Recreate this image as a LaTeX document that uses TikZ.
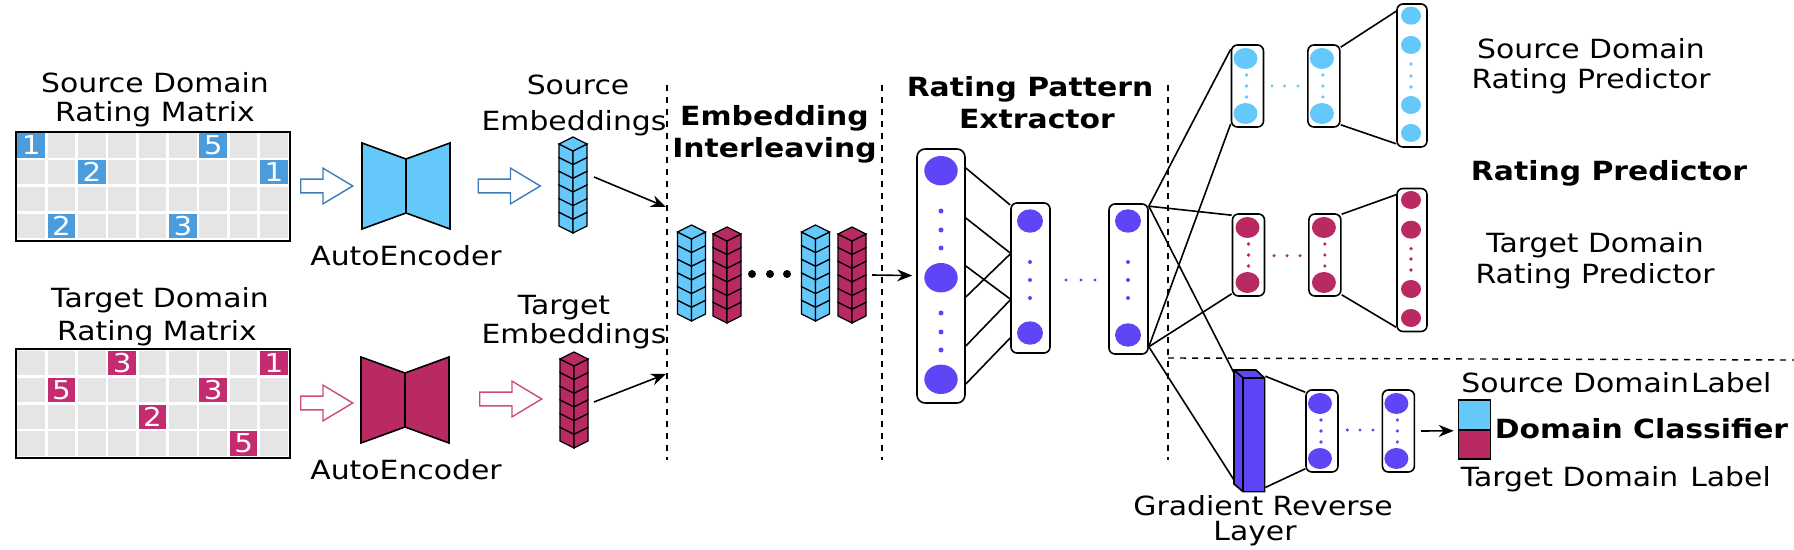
\documentclass[tikz,border=0pt]{standalone}
\usepackage{fontspec}
\setmainfont[FakeStretch=1.13]{DejaVu Sans}
\usepackage{xcolor}
\usepackage{tikz}
\usetikzlibrary{positioning, shapes.arrows, arrows.meta}

\definecolor{srcblue}{HTML}{64C8FA}
\definecolor{tgtred}{HTML}{B92A63}
\definecolor{unitviolet}{HTML}{5E45F5}
\definecolor{srccell}{HTML}{4A9CDC}
\definecolor{tgtcell}{HTML}{C52B71}
\definecolor{srcline}{HTML}{3E7BB8}
\definecolor{tgtline}{HTML}{CF4A80}

% two big units and three dots in a layer box
\newcommand{\twounits}[4]{
	\fill[#2] ([shift={(#4,-#3)}]#1.center) ellipse [x radius=12, y radius=10.5];
	\fill[#2] ([shift={(#4,#3)}]#1.center) ellipse [x radius=12, y radius=10.5];
	\foreach \dy in {-11,0,11}
		\fill[#2] ([shift={(#4+1,\dy)}]#1.center) circle [radius=1.8];
}
\newcommand{\rowdots}[3]{
	\foreach \dx in {#1}
		\fill[#3] (\dx,#2) circle [radius=1.7];
}

\begin{document}
\begin{tikzpicture}[
	x=0.5pt, y=-0.5pt,
	line width=0.8pt,
	>={Stealth[length=7.5pt,width=6pt]},
	lbl/.style={align=center, inner sep=0pt, font=\fontsize{13.2}{14.5}\selectfont},
	boldlbl/.style={lbl, font=\fontsize{13.2}{15}\selectfont\bfseries},
	matframe/.style={draw, line width=1pt, fill=white, minimum width=137pt, minimum height=54.5pt, inner sep=0pt},
	ratecell/.style={minimum width=13.85pt, minimum height=12.15pt, inner sep=0pt, text=white, font=\fontsize{13}{13}\selectfont},
	blockarrow/.style={single arrow, draw, fill=white, line width=0.7pt, inner sep=0pt, text height=6.2pt, minimum height=26pt, single arrow head extend=5.5pt, single arrow tip angle=62},
	layer/.style={draw, rounded corners=3pt, fill=white, minimum width=16pt, minimum height=41pt, inner sep=0pt},
	dividerline/.style={dashed, line width=0.7pt},
	pics/cubestack/.style={code={
		\foreach \i in {0,...,5} {
			\draw[fill=#1, line width=0.6pt] (-14,7+13.67*\i) -- (0,14+13.67*\i) -- (0,27.67+13.67*\i) -- (-14,20.67+13.67*\i) -- cycle;
			\draw[fill=#1, line width=0.6pt] (14,7+13.67*\i) -- (0,14+13.67*\i) -- (0,27.67+13.67*\i) -- (14,20.67+13.67*\i) -- cycle;
		}
		\draw[fill=#1, line width=0.6pt] (0,0) -- (14,7) -- (0,14) -- (-14,7) -- cycle;
	}},
	pics/autoenc/.style={code={
		\draw[fill=#1] (-44,-43) -- (0,-27) -- (0,27) -- (-44,43) -- cycle;
		\draw[fill=#1] (44,-43) -- (0,-27) -- (0,27) -- (44,43) -- cycle;
	}}
]
	\useasboundingbox (0,0) rectangle (1794,550);

	% rating matrices
	\node[matframe] (srcmat) at (152.8,186.2) {};
	\node[matframe] (tgtmat) at (152.8,403.3) {};
	\foreach \r in {0,...,3}
		\foreach \c in {0,...,8} {
			\fill[black!10] (17.3+30.35*\c,133.3+26.8*\r) rectangle +(27.7,24.3);
			\fill[black!10] (17.3+30.35*\c,351+26.8*\r) rectangle +(27.7,24.3);
		}
	\foreach \c/\r/\v in {0/0/1, 6/0/5, 2/1/2, 8/1/1, 1/3/2, 5/3/3}
		\node[ratecell, fill=srccell] (src\c\r) at (31.15+30.35*\c,145.45+26.8*\r) {\v};
	\foreach \c/\r/\v in {3/0/3, 8/0/1, 1/1/5, 6/1/3, 4/2/2, 7/3/5}
		\node[ratecell, fill=tgtcell] (tgt\c\r) at (31.15+30.35*\c,363.15+26.8*\r) {\v};

	\node[lbl] (srcmatlbl) at (155,99.4) {Source Domain\\Rating Matrix};
	\node[lbl] (tgtmatlbl) at (160,317) {Target Domain\\[2pt]\hspace*{-3pt}Rating Matrix};

	% autoencoders and embeddings
	\node[blockarrow, draw=srcline] (srcin) at (321,186) {};
	\node[blockarrow, draw=tgtline] (tgtin) at (321,403) {};
	\pic (srcae) at (406,186) {autoenc=srcblue};
	\pic (tgtae) at (405,400) {autoenc=tgtred};
	\node[lbl] (srcaelbl) at (406,256) {AutoEncoder};
	\node[lbl] (tgtaelbl) at (406,470) {AutoEncoder};
	\node[blockarrow, draw=srcline, minimum height=31pt] (srcout) at (503.5,186) {};
	\node[blockarrow, draw=tgtline, minimum height=31pt] (tgtout) at (505,399) {};
	\pic (srcemb) at (573,137) {cubestack=srcblue};
	\pic (tgtemb) at (574,352) {cubestack=tgtred};
	\node[lbl] (srcemblbl) at (574,105.5) {\hspace*{4pt}Source\\[3.5pt]Embeddings};
	\node[lbl] (tgtemblbl) at (574,322.5) {\hspace*{-10pt}Target\\Embeddings};
	\coordinate (srcfrom) at (594,177);
	\coordinate (tgtfrom) at (594,402);
	\coordinate (srcto) at (666,207);
	\coordinate (tgtto) at (666,374);
	\draw[->] (srcfrom) -- (srcto);
	\draw[->] (tgtfrom) -- (tgtto);

	% dividers
	\coordinate (div1top) at (667,85);
	\coordinate (div1bot) at (667,460);
	\coordinate (div2top) at (882,85);
	\coordinate (div2bot) at (882,460);
	\coordinate (div3top) at (1168,85);
	\coordinate (div3bot) at (1168,460);
	\coordinate (div4left) at (1168,358);
	\coordinate (div4right) at (1794,360);
	\draw[dividerline] (div1top) -- (div1bot);
	\draw[dividerline] (div2top) -- (div2bot);
	\draw[dividerline] (div3top) -- (div3bot);
	\draw[dividerline] (div4left) -- (div4right);

	% interleaving
	\node[boldlbl] (interlbl) at (774.5,134) {Embedding\\[1pt]Interleaving};
	\pic (mix1) at (691.5,225) {cubestack=srcblue};
	\pic (mix2) at (727,227) {cubestack=tgtred};
	\pic (mix3) at (815.5,225) {cubestack=srcblue};
	\pic (mix4) at (852,227) {cubestack=tgtred};
	\foreach \x in {752,770,787}
		\fill (\x,274) circle [radius=4];

	% extractor
	\node[boldlbl] (extlbl) at (1030,103) {Rating Pattern\\[1pt]\hspace*{7pt}Extractor};
	\node[layer, minimum width=24pt, minimum height=127pt, rounded corners=4pt] (lay1) at (941,276) {};
	\node[layer, minimum width=19.5pt, minimum height=75pt] (lay2) at (1030.5,278) {};
	\node[layer, minimum width=19.5pt, minimum height=75pt] (lay3) at (1128.5,279) {};
	\coordinate (mixout) at (872,275);
	\draw[->, shorten >=2pt] (mixout) -- (lay1);
	\foreach \y in {170.7,277.7,379.3}
		\fill[unitviolet] (941,\y) ellipse [x radius=16.7, y radius=14.7];
	\foreach \y in {211,230,248,313,332,350}
		\fill[unitviolet] (941,\y) circle [radius=2.5];
	\foreach \y in {221,333}
		\fill[unitviolet] (1030,\y) ellipse [x radius=13, y radius=11.7];
	\foreach \y in {221,335}
		\fill[unitviolet] (1128,\y) ellipse [x radius=13, y radius=11.7];
	\foreach \y in {262,280,298} {
		\fill[unitviolet] (1030,\y) circle [radius=2];
		\fill[unitviolet] (1128,\y) circle [radius=2];
	}
	\rowdots{1066,1081,1095}{280}{unitviolet}
	\foreach \a/\b in {-108/-73, -58/-25, -10/21, 21/-24, 70/22, 108/60}
		\draw ([shift={(0,\a)}]lay1.east) -- ([shift={(0,\b)}]lay2.west);

	% source predictor
	\node[layer] (srcA) at (1247.5,86) {};
	\node[layer, right=21.4pt of srcA] (srcB) {};
	\node[layer, minimum width=15pt, minimum height=71.5pt] (srcC) at (1412,75.5) {};
	\twounits{srcA}{srcblue}{27.5}{-2}
	\twounits{srcB}{srcblue}{27.5}{-2}
	\rowdots{1272,1284.5,1298}{86}{srcblue}
	\foreach \y in {15.7,45,105,133}
		\fill[srcblue] (1411,\y) ellipse [x radius=10, y radius=9];
	\foreach \y in {64,76,87}
		\fill[srcblue] (1411,\y) circle [radius=1.8];
	\draw ([shift={(0,3)}]srcB.north east) -- ([shift={(0,8)}]srcC.north west);
	\draw ([shift={(0,-3)}]srcB.south east) -- ([shift={(0,-4)}]srcC.south west);

	% target predictor
	\node[layer] (tgtA) at (1248.5,255) {};
	\node[layer, right=21.4pt of tgtA] (tgtB) {};
	\node[layer, minimum width=15pt, minimum height=71.5pt] (tgtC) at (1412,260) {};
	\twounits{tgtA}{tgtred}{27.5}{-1}
	\twounits{tgtB}{tgtred}{27.5}{-1}
	\rowdots{1274,1287,1300}{255.7}{tgtred}
	\foreach \y in {200,229.7,289,318}
		\fill[tgtred] (1411,\y) ellipse [x radius=10, y radius=9];
	\foreach \y in {248.7,259,270}
		\fill[tgtred] (1411,\y) circle [radius=1.8];
	\draw ([shift={(0,1)}]tgtB.north east) -- ([shift={(0,7)}]tgtC.north west);
	\draw ([shift={(0,-2)}]tgtB.south east) -- ([shift={(0,-5)}]tgtC.south west);

	% gradient reverse layer and classifier
	\draw[fill=unitviolet] (1234,370) -- (1256,370) -- (1264.5,378) -- (1264.5,491.7) -- (1243,491.7) -- (1234,484) -- cycle;
	\node[draw, fill=unitviolet, minimum width=10.75pt, minimum height=56.85pt, inner sep=0pt] (grl) at (1253.75,434.85) {};
	\draw (1234,370) -- (grl.north west);
	\node[layer] (domA) at (1322,431) {};
	\node[layer, right=21.4pt of domA] (domB) {};
	\twounits{domA}{unitviolet}{27.5}{-2}
	\twounits{domB}{unitviolet}{27.5}{-2}
	\rowdots{1347.4,1360,1373}{430}{unitviolet}
	\draw ([shift={(0,-1)}]grl.north east) -- ([shift={(0,3)}]domA.north west);
	\draw ([shift={(0,-5)}]grl.south east) -- ([shift={(0,-4)}]domA.south west);
	\node[draw, fill=srcblue, minimum width=16pt, minimum height=15pt, inner sep=0pt] (srcdom) at (1474.5,415) {};
	\node[draw, fill=tgtred, minimum width=16pt, minimum height=14.5pt, inner sep=0pt, below=-0.8pt of srcdom] (tgtdom) {};
	\draw[->] ([xshift=3pt]domB.east) -- ([xshift=-2pt]srcdom.south west);

	% links out of the extractor
	\coordinate (hubtop) at ([shift={(0,3)}]lay3.north east);
	\coordinate (hubbot) at ([shift={(0,-8)}]lay3.south east);
	\draw (hubtop) -- ([shift={(0,5)}]srcA.north west);
	\draw (hubbot) -- ([shift={(0,-4)}]srcA.south west);
	\draw (hubtop) -- ([shift={(0,2)}]tgtA.north west);
	\draw (hubbot) -- ([shift={(0,-3)}]tgtA.south west);
	\coordinate (grltop) at (1234,373);
	\coordinate (grlbot) at (1234,480);
	\draw (hubtop) -- (grltop);
	\draw (hubbot) -- (grlbot);

	% right hand labels
	\node[lbl] (srcpredlbl) at (1591,66.4) {Source Domain\\[0.6pt]Rating Predictor};
	\node[boldlbl] (predlbl) at (1609,173) {Rating Predictor};
	\node[lbl] (tgtpredlbl) at (1595,260.5) {Target Domain\\[1pt]Rating Predictor};
	\node[lbl, anchor=west] (srcdomlbl) at (1460.5,383) {Source Domain\hspace{1pt}Label};
	\node[boldlbl, anchor=west] (domlbl) at (1494,429) {Domain Classifier};
	\node[lbl, anchor=west] (tgtdomlbl) at (1460,479) {Target Domain\hspace{6pt}Label};
	\node[lbl] (grllbl) at (1263,521) {Gradient Reverse\\[-2pt]\hspace*{-8pt}Layer};
\end{tikzpicture}
\end{document}
